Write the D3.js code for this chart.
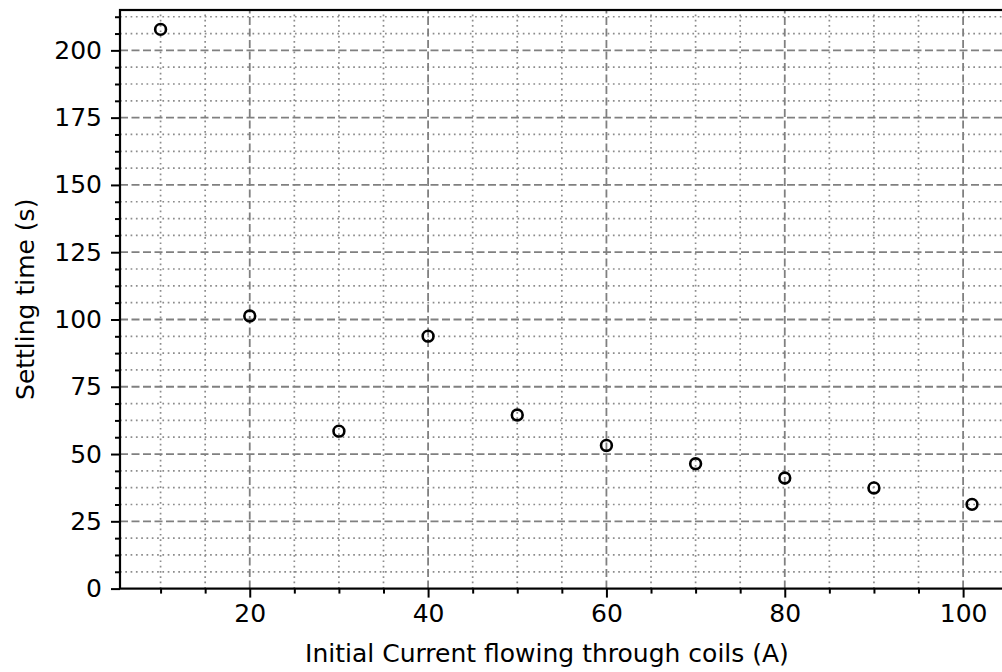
<!DOCTYPE html>
<html>
<head>
    <meta charset="utf-8">
    <script src="https://d3js.org/d3.v7.min.js"></script>
    <style>
        body {
            margin: 0;
            background: #fff;
        }

        svg {
            font-family: "DejaVu Sans", sans-serif;
        }

        .grid-major line {
            stroke: #808080;
            stroke-width: 1.8px;
            stroke-dasharray: 8, 3.5;
        }

        .grid-minor line {
            stroke: #8c8c8c;
            stroke-width: 1.7px;
            stroke-dasharray: 1.7, 3.6;
        }

        .axis path {
            display: none;
        }

        .axis line {
            stroke: #000;
            stroke-width: 2px;
        }

        .axis text {
            font-family: "DejaVu Sans", sans-serif;
            font-size: 25px;
            fill: #000;
        }

        .spine {
            stroke: #000;
            stroke-width: 2.2px;
            fill: none;
        }

        .point {
            fill: none;
            stroke: #000;
            stroke-width: 2.6px;
        }

        .label {
            font-family: "DejaVu Sans", sans-serif;
            font-size: 25px;
            fill: #000;
        }
    </style>
</head>
<body>
    <svg width="1002" height="672"></svg>
    <script>
        // data
        var currents = [10, 20, 30, 40, 50, 60, 70, 80, 90, 101];
        var settling = [207.8, 101.3, 58.5, 93.8, 64.5, 53.2, 46.4, 41.1, 37.4, 31.3];
        var xTicks = [20, 40, 60, 80, 100];
        var yTicks = [0, 25, 50, 75, 100, 125, 150, 175, 200];

        var data = currents.map(function (c, i) {
            return { x: c, y: settling[i] };
        });

        var svg = d3.select("svg");
        var pLeft = 120, pRight = 1012.6, pTop = 10, pBottom = 588.6;

        var x = d3.scaleLinear().domain([5.45, 105.55]).range([pLeft, pRight]);
        var y = d3.scaleLinear().domain([0, 215]).range([pBottom, pTop]);

        // minor ticks: x every 5, y every 6.25
        var xMinor = d3.range(5, 106, 5).filter(function (d) {
            return d >= 5.45 && d <= 105.55 && xTicks.indexOf(d) < 0;
        });
        var yMinor = d3.range(0, 216, 6.25).filter(function (d) {
            return yTicks.indexOf(d) < 0;
        });

        var g = svg.append("g");

        // minor grid
        var gm = g.append("g").attr("class", "grid-minor");
        gm.selectAll(".vx").data(xMinor).enter().append("line")
            .attr("x1", x).attr("x2", x).attr("y1", pBottom).attr("y2", pTop);
        gm.selectAll(".hy").data(yMinor).enter().append("line")
            .attr("y1", y).attr("y2", y).attr("x1", pLeft).attr("x2", pRight);

        // major grid
        var gM = g.append("g").attr("class", "grid-major");
        gM.selectAll(".vx").data(xTicks).enter().append("line")
            .attr("x1", x).attr("x2", x).attr("y1", pBottom).attr("y2", pTop);
        gM.selectAll(".hy").data(yTicks.filter(function (d) { return d > 0; })).enter().append("line")
            .attr("y1", y).attr("y2", y).attr("x1", pLeft).attr("x2", pRight);

        // axes
        g.append("g")
            .attr("class", "axis")
            .attr("transform", "translate(0," + pBottom + ")")
            .call(d3.axisBottom(x).tickValues(xMinor).tickSize(5).tickFormat(""));
        g.append("g")
            .attr("class", "axis")
            .attr("transform", "translate(0," + pBottom + ")")
            .call(d3.axisBottom(x).tickValues(xTicks).tickSize(9).tickPadding(7));

        g.append("g")
            .attr("class", "axis")
            .attr("transform", "translate(" + pLeft + ",0)")
            .call(d3.axisLeft(y).tickValues(yMinor).tickSize(5).tickFormat(""));
        g.append("g")
            .attr("class", "axis")
            .attr("transform", "translate(" + pLeft + ",0)")
            .call(d3.axisLeft(y).tickValues(yTicks).tickSize(9).tickPadding(9));

        // spines
        g.append("rect")
            .attr("class", "spine")
            .attr("x", pLeft).attr("y", pTop)
            .attr("width", pRight - pLeft).attr("height", pBottom - pTop);

        // points
        g.selectAll(".point").data(data).enter().append("circle")
            .attr("class", "point")
            .attr("cx", function (d) { return x(d.x); })
            .attr("cy", function (d) { return y(d.y); })
            .attr("r", 5.4);

        // labels
        svg.append("text")
            .attr("class", "label")
            .attr("x", 547).attr("y", 662)
            .attr("text-anchor", "middle")
            .text("Initial Current flowing through coils (A)");

        svg.append("text")
            .attr("class", "label")
            .attr("transform", "translate(34," + ((pTop + pBottom) / 2) + ") rotate(-90)")
            .attr("text-anchor", "middle")
            .text("Settling time (s)");
    </script>
</body>
</html>
